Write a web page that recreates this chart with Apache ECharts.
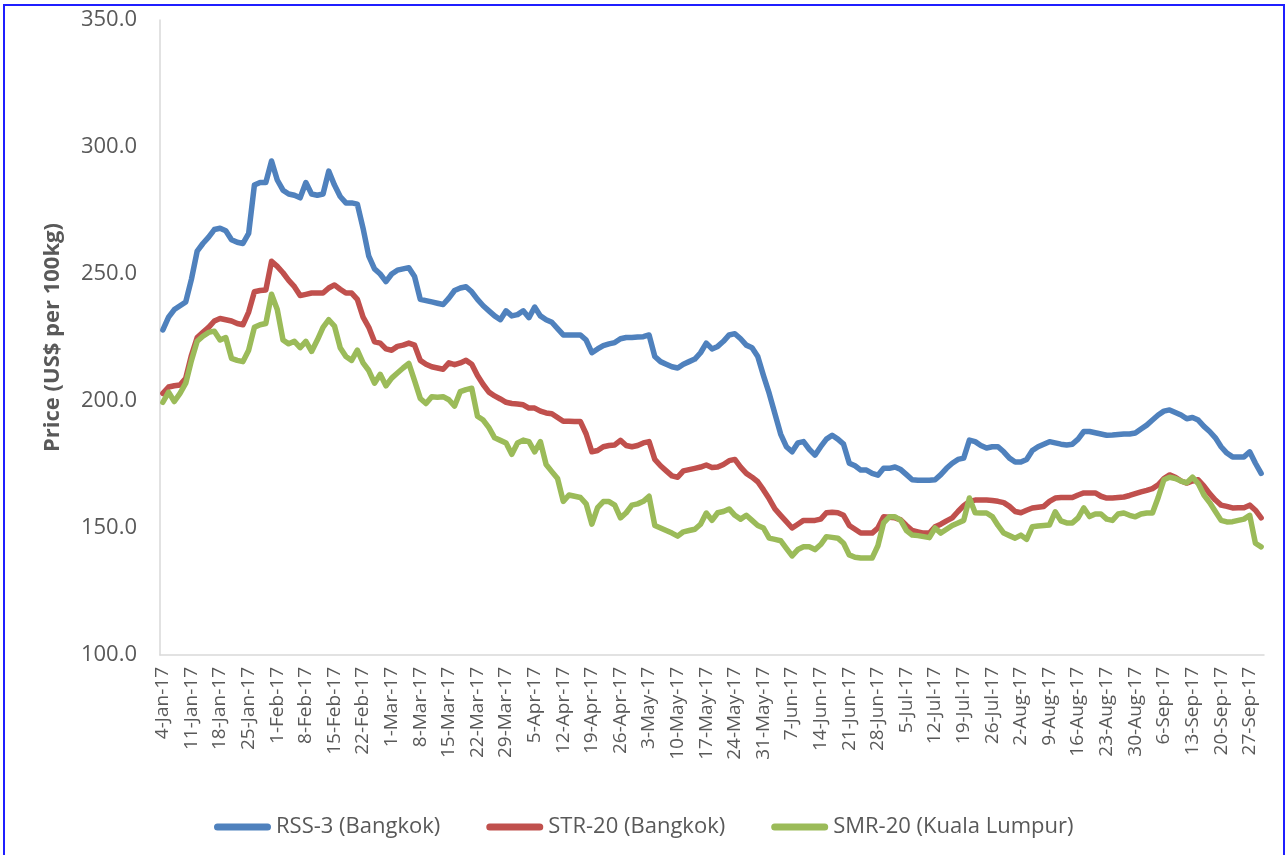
<!DOCTYPE html>
<html>
<head>
<meta charset="utf-8">
<script src="https://cdn.jsdelivr.net/npm/echarts@6/dist/echarts.min.js"></script>
<style>
  html, body { margin: 0; padding: 0; background: #ffffff; }
  #chart { position: absolute; left: 0; top: 0; width: 1287px; height: 855px; }
  #frame { position: absolute; left: 3px; top: 4px; width: 1278px; height: 860px; border: 2px solid #1f1fff; pointer-events: none; }
</style>
</head>
<body>
<div id="chart"></div>
<div id="frame"></div>
<script>
// Series names
const seriesNames = ['RSS-3 (Bangkok)', 'STR-20 (Bangkok)', 'SMR-20 (Kuala Lumpur)'];
const seriesColors = ['#4F81BD', '#C0504D', '#9BBB59'];

// Y axis ticks
const yMin = 100, yMax = 350, yStep = 50;

// Categories: trading days (Mon-Fri) from 4-Jan-2017
const monthNames = ['Jan','Feb','Mar','Apr','May','Jun','Jul','Aug','Sep','Oct','Nov','Dec'];
const dayCount = 193;
const categories = [];
(function () {
  const d = new Date(2017, 0, 4);
  while (categories.length < dayCount) {
    const wd = d.getDay();
    if (wd !== 0 && wd !== 6) {
      categories.push(d.getDate() + '-' + monthNames[d.getMonth()] + '-17');
    }
    d.setDate(d.getDate() + 1);
  }
})();

// RSS-3 (Bangkok)
const rss3 = [
  228,233,236,237.5,239,248,259,262,264.5,267.5,
  268,267,263.5,262.5,262,266,285,286,286,294.5,
  287,283,281.5,281,280,286,281.5,281,281.5,290.5,
  285,280.5,278,278,277.5,268,257,252,250,247,
  250,251.5,252,252.5,249,240,239.5,239,238.5,238,
  240.5,243.5,244.5,245,243,240,237.5,235.5,233.5,232,
  235.5,233.5,234,235.5,232.8,237,233.5,232,231,228.5,
  226,226,226,226,224,219,220.5,221.8,222.5,223,
  224.5,225,225,225.2,225.3,226,217.5,215.5,214.5,213.5,
  213,214.5,215.5,216.5,219,222.8,220.5,221.5,223.5,226,
  226.5,224.5,222,221,217.5,210,203,195,187,182,
  180,183.5,184,181,178.7,182,185,186.5,185,183,
  175.5,174.5,172.8,172.8,171.5,170.8,173.5,173.5,174,173,
  171,169,168.8,168.8,168.8,169,171,173.5,175.5,177,
  177.5,184.6,184,182.5,181.5,182,182,180,177.5,176,
  176,177,180.5,182,183,184,183.5,183,182.7,183,
  185,188,188,187.5,187,186.5,186.6,186.8,187,187,
  187.4,189,190.5,192.5,194.5,196,196.5,195.5,194.5,193,
  193.5,192.5,190,188,185.5,182,179.5,178,178,178,
  180,175.5,171.5
];

// STR-20 (Bangkok)
const str20 = [
  203,205.5,206,206.3,209,218,225,227,229,231.5,
  232.5,232,231.5,230.5,230,235,243,243.5,243.7,255,
  253,250.5,247.5,245,241.5,242,242.5,242.5,242.5,244.5,
  245.7,244,242.5,242.5,240,233,229,223.3,222.8,220.5,
  220,221.5,222,222.8,222,216,214.5,213.5,213,212.5,
  215,214.3,215,216,214.5,210,206.5,203.5,202,200.8,
  199.5,199,198.8,198.5,197.2,197.2,196,195.3,195,193.5,
  192,192,191.9,191.9,187,180,180.5,182,182.5,182.7,
  184.5,182.5,182,182.5,183.5,184,177,174.5,172.5,170.5,
  170,172.5,173,173.5,174,174.8,173.8,174,175,176.5,
  177,174,171.5,170,168.2,165,161.5,157.5,155,152.5,
  150,151.5,153,153,153,153.5,156,156.2,156,155,
  151,149.5,148,148,148,150,154.4,154.2,154,153.2,
  151,149,148.5,148,148,150.5,151.5,152.8,154,156.5,
  158.8,160.5,161,161,161,160.8,160.5,160,158.5,156.5,
  156,157,157.9,158.2,158.5,160.5,161.8,162,162,162,
  163,163.8,163.8,163.8,162.5,161.8,161.8,162,162.2,162.8,
  163.5,164.2,164.8,165.5,167,169.5,170.9,170,168.5,167.7,
  168.5,169,166.5,163.5,161,159,158.5,157.9,158,158,
  159,157,154
];

// SMR-20 (Kuala Lumpur)
const smr20 = [
  199.5,203.5,199.8,203,207,216,223.5,225.5,227,227.5,
  224,225,216.8,216,215.5,220,229,230,230.5,242,
  236,224,222.5,223.5,221,223.5,219.5,224,229,232,
  229.5,221,217.5,216,220,215,212,207,210.5,206,
  209,211,213,214.8,208,201,199,201.7,201.5,201.7,
  200.5,198,203.7,204.5,205,194,192.5,189.5,185.5,184.5,
  183.5,179,183.5,184.6,184,180,184,175,172.2,169.5,
  160.5,163,162.5,162,159.5,151.5,158,160.4,160.4,159,
  154,156,159,159.5,160.5,162.5,151,150,149,148,
  146.8,148.5,149,149.5,151.5,155.9,153,156,156.5,157.5,
  155,153.5,155,153,151,150,146,145.5,145,142,
  139,141.5,142.6,142.6,141.5,143.5,146.6,146.3,146,144,
  139.4,138.5,138.2,138.2,138.2,143,152,154.4,154.4,153,
  149,147.2,147,146.6,146.2,150,148,149.5,151,152,
  153,161.8,156,155.9,155.9,154.5,151,148,147,146,
  147.2,145.5,150.5,150.8,151,151.2,156.4,152.8,152,152,
  154,157.9,154.5,155.5,155.5,153.5,153,155.5,155.9,155,
  154.4,155.5,155.9,155.9,162,169,170,169.5,168.5,167.8,
  170,167.5,163,160,156.5,153,152.4,152.5,153,153.5,
  155,144,142.6
];

const seriesData = [rss3, str20, smr20];
const FONT = '"Open Sans", "DejaVu Sans", sans-serif';
const legendIcon = 'path://M3.5,0 L53.5,0 A3.5,3.5 0 0 1 53.5,7 L3.5,7 A3.5,3.5 0 0 1 3.5,0 Z';

const chart = echarts.init(document.getElementById('chart'), null, { renderer: 'canvas' });
chart.setOption({
  animation: false,
  backgroundColor: '#ffffff',
  textStyle: { fontFamily: FONT },
  grid: { left: 160, top: 20, width: 1104, height: 635, containLabel: false },
  legend: {
    data: seriesNames.map(n => ({ name: n, icon: legendIcon })),
    left: 209,
    top: 811,
    itemWidth: 57,
    itemHeight: 7,
    itemGap: 46,
    textStyle: { color: '#595959', fontSize: 22, fontFamily: FONT }
  },
  xAxis: {
    type: 'category',
    data: categories,
    boundaryGap: true,
    axisLine: { show: true, lineStyle: { color: '#D9D9D9', width: 1.5 } },
    axisTick: { show: false },
    splitLine: { show: false },
    axisLabel: {
      interval: 4,
      rotate: 90,
      margin: 12,
      color: '#595959',
      fontSize: 19,
      fontFamily: FONT
    }
  },
  yAxis: {
    type: 'value',
    min: yMin,
    max: yMax,
    interval: yStep,
    axisLine: { show: true, lineStyle: { color: '#D9D9D9', width: 1.5 } },
    axisTick: { show: false },
    splitLine: { show: false },
    axisLabel: {
      margin: 23,
      color: '#595959',
      fontSize: 22,
      fontFamily: FONT,
      formatter: v => v.toFixed(1)
    },
    name: 'Price (US$ per 100kg)',
    nameLocation: 'middle',
    nameRotate: 90,
    nameGap: 96,
    nameTextStyle: { color: '#595959', fontSize: 22, fontWeight: 'bold', fontFamily: FONT }
  },
  series: seriesNames.map((n, k) => ({
    name: n,
    type: 'line',
    data: seriesData[k],
    showSymbol: false,
    symbol: 'none',
    smooth: false,
    color: seriesColors[k],
    lineStyle: { width: 5.5, color: seriesColors[k], join: 'round', cap: 'round' }
  }))
});
</script>
</body>
</html>
